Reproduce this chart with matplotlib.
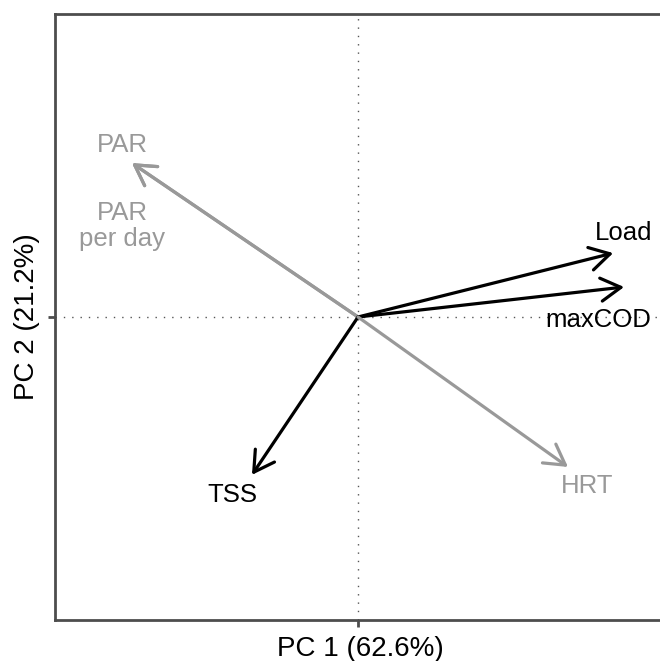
import matplotlib.pyplot as plt

plt.rcParams['font.family'] = ['Liberation Sans', 'DejaVu Sans']

# loadings (arrow tips) and label positions
variables = ['PAR', 'PAR\nper day', 'Load', 'maxCOD', 'TSS', 'HRT']
pc1 = [-0.746, -0.746, 0.842, 0.878, -0.350, 0.693]
pc2 = [0.508, 0.508, 0.211, 0.099, -0.521, -0.495]
label_x = [-0.777, -0.779, 0.878, 0.792, -0.416, 0.756]
label_y = [0.545, 0.300, 0.254, -0.033, -0.611, -0.581]
label_va = ['baseline', 'center', 'baseline', 'baseline', 'baseline', 'baseline']
colors = ['#999999', '#999999', 'black', 'black', 'black', '#999999']

fig = plt.figure(figsize=(6.6, 6.61), dpi=100)
ax = fig.add_axes([55 / 660, 41 / 661, 610 / 660, 606 / 661])

ax.axhline(0, color='#555555', linestyle=(0, (1, 5)), linewidth=1)
ax.axvline(0, color='#555555', linestyle=(0, (1, 5)), linewidth=1)

for i in range(len(variables)):
    ax.annotate('', xy=(pc1[i], pc2[i]), xytext=(0, 0),
                arrowprops=dict(arrowstyle='->,head_length=1.44,head_width=0.83',
                                mutation_scale=10, color=colors[i], lw=2.3,
                                shrinkA=0, shrinkB=0))
    ax.text(label_x[i], label_y[i], variables[i], color=colors[i],
            fontsize=18.5, ha='center', va=label_va[i], linespacing=1.1)

ax.set_xlim(-1, 1.013)
ax.set_ylim(-1, 1)
ax.set_xticks([0])
ax.set_yticks([0])
ax.set_xticklabels([])
ax.set_yticklabels([])
ax.tick_params(length=5, width=2, color='#4d4d4d')
for s in ax.spines.values():
    s.set_linewidth(2)
    s.set_color('#4d4d4d')

ax.set_xlabel('PC 1 (62.6%)', fontsize=20, labelpad=3)
ax.set_ylabel('PC 2 (21.2%)', fontsize=20, labelpad=2)

fig.savefig('out.png', dpi=100)
